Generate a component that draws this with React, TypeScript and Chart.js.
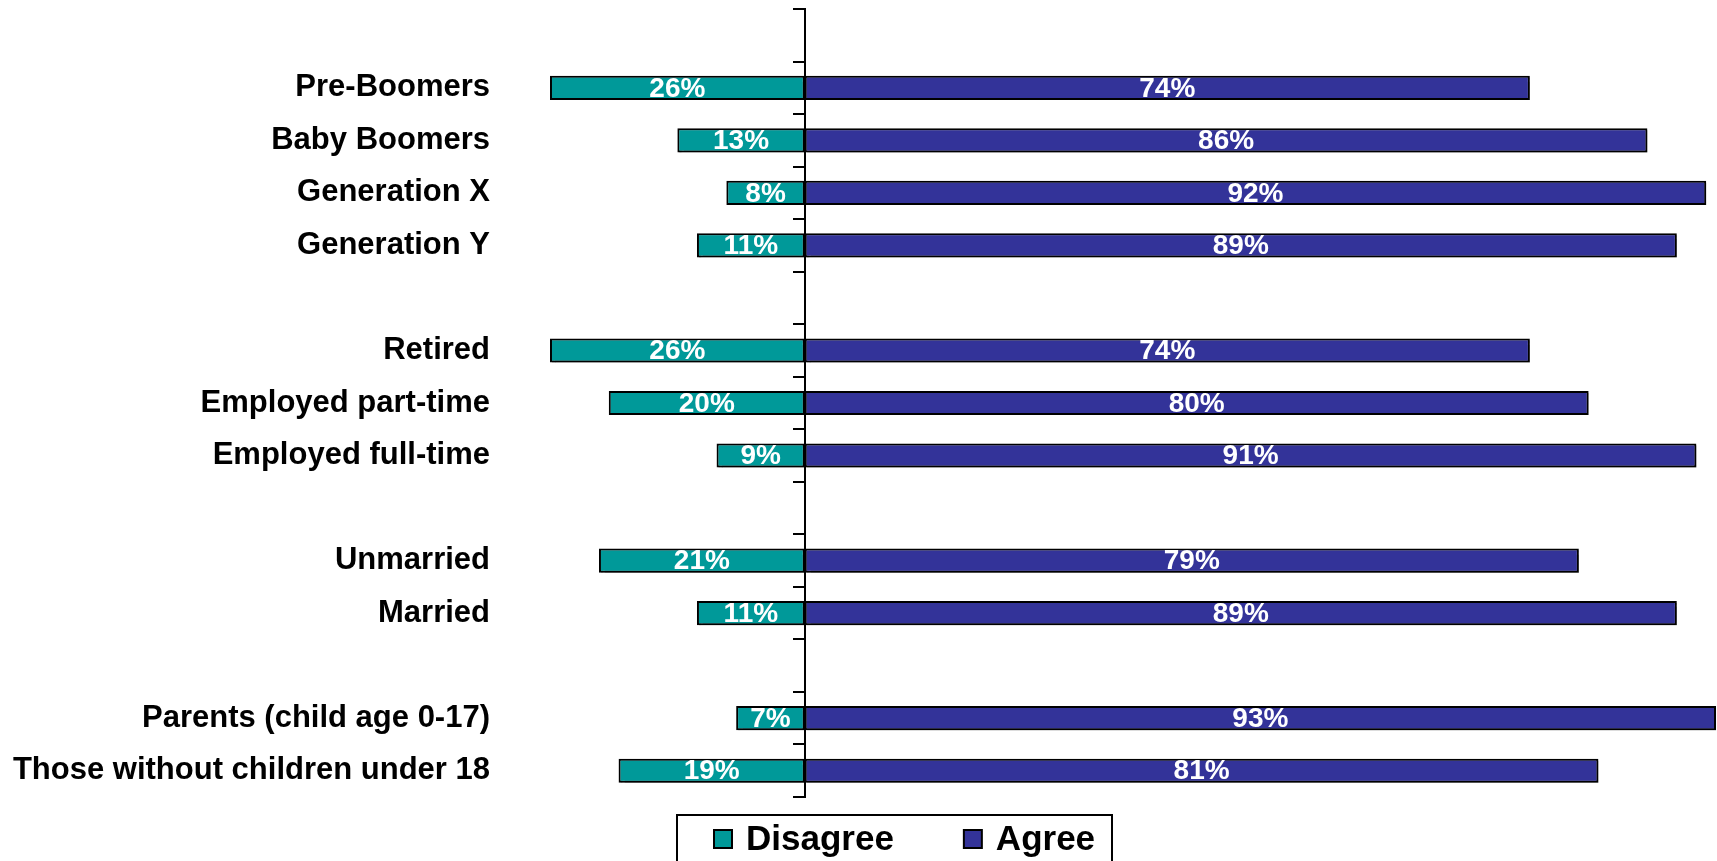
import React, { useEffect, useRef } from 'react';
import { Chart, registerables } from 'chart.js';

Chart.register(...registerables);

const FONT = '"Liberation Sans", Arial, Helvetica, sans-serif';

const categories = [
  '',
  'Pre-Boomers',
  'Baby Boomers',
  'Generation X',
  'Generation Y',
  '',
  'Retired',
  'Employed part-time',
  'Employed full-time',
  '',
  'Unmarried',
  'Married',
  '',
  'Parents (child age 0-17)',
  'Those without children under 18',
];
const disagree = [null, 26, 13, 8, 11, null, 26, 20, 9, null, 21, 11, null, 7, 19];
const agree = [null, 74, 86, 92, 89, null, 74, 80, 91, null, 79, 89, null, 93, 81];
const seriesNames = ['Disagree', 'Agree'];
const seriesColors = ['#009999', '#333399'];

const barShadow = {
  id: 'barShadow',
  beforeDatasetsDraw(chart: any) {
    const ctx = chart.ctx;
    ctx.save();
    ctx.shadowColor = 'rgba(0,0,0,0.35)';
    ctx.shadowOffsetX = 2;
    ctx.shadowOffsetY = 2;
    ctx.shadowBlur = 1;
  },
  afterDatasetsDraw(chart: any) {
    chart.ctx.restore();
  },
};

const valueLabels = {
  id: 'valueLabels',
  afterDatasetsDraw(chart: any) {
    const ctx = chart.ctx;
    ctx.save();
    ctx.font = `bold 28px ${FONT}`;
    ctx.fillStyle = '#ffffff';
    ctx.textAlign = 'center';
    ctx.textBaseline = 'middle';
    chart.data.datasets.forEach((ds: any, di: number) => {
      const meta = chart.getDatasetMeta(di);
      meta.data.forEach((el: any, i: number) => {
        const v = ds.data[i];
        if (v == null) return;
        const { x, base, y } = el.getProps(['x', 'base', 'y'], true);
        ctx.fillText(`${Math.abs(v)}%`, (x + base) / 2, y + 1);
      });
    });
    ctx.restore();
  },
};

const boxedLegend = {
  id: 'boxedLegend',
  afterDraw(chart: any) {
    const ctx = chart.ctx;
    const left = 677;
    const top = 815;
    const right = 1112;
    const bottom = 880;
    const midY = 839;
    const sq = 18;
    ctx.save();
    ctx.lineWidth = 2;
    ctx.strokeStyle = '#000';
    ctx.strokeRect(left, top, right - left, bottom - top);
    ctx.font = `bold 35px ${FONT}`;
    ctx.textBaseline = 'middle';
    ctx.textAlign = 'left';
    let x = left + 37;
    chart.data.datasets.forEach((ds: any) => {
      ctx.fillStyle = ds.backgroundColor;
      ctx.fillRect(x, midY - sq / 2, sq, sq);
      ctx.lineWidth = 2;
      ctx.strokeStyle = '#000';
      ctx.strokeRect(x, midY - sq / 2, sq, sq);
      ctx.fillStyle = '#000';
      const tx = x + sq + 14;
      ctx.fillText(ds.label, tx, midY + 1);
      x = tx + ctx.measureText(ds.label).width + 70;
    });
    ctx.restore();
  },
};

export default function App() {
  const canvasRef = useRef<HTMLCanvasElement | null>(null);

  useEffect(() => {
    if (!canvasRef.current) return;
    Chart.defaults.font.family = FONT;
    const chart = new Chart(canvasRef.current, {
      type: 'bar',
      data: {
        labels: categories,
        datasets: [
          {
            label: seriesNames[0],
            data: disagree.map((v) => (v == null ? null : -v)),
            backgroundColor: seriesColors[0],
            borderColor: '#000000',
            borderWidth: 2,
            borderSkipped: false,
            yAxisID: 'y',
            xAxisID: 'x',
          },
          {
            label: seriesNames[1],
            data: agree,
            backgroundColor: seriesColors[1],
            borderColor: '#000000',
            borderWidth: 2,
            borderSkipped: false,
            yAxisID: 'y',
            xAxisID: 'x',
          },
        ],
      },
      options: {
        indexAxis: 'y',
        animation: false,
        responsive: true,
        maintainAspectRatio: false,
        layout: { padding: { top: 9, bottom: 64, left: 0, right: 0 } },
        datasets: { bar: { categoryPercentage: 1, barPercentage: 0.46 } },
        plugins: {
          legend: { display: false },
          tooltip: { enabled: false },
        },
        scales: {
          x: {
            type: 'linear',
            stacked: true,
            min: -31.1,
            max: 93.1,
            display: false,
          },
          y: {
            type: 'category',
            stacked: true,
            grid: { display: false, drawTicks: false },
            border: { display: false },
            ticks: {
              autoSkip: false,
              color: '#000000',
              padding: 10,
              font: { size: 31, weight: 'bold', family: FONT },
            },
            afterFit: (s: any) => {
              s.width = 500;
              s.paddingTop = 0;
              s.paddingBottom = 0;
            },
          },
          yAxisLine: {
            type: 'category',
            position: { x: 0 },
            z: 1,
            grid: {
              offset: true,
              drawOnChartArea: false,
              drawTicks: true,
              tickLength: 11,
              color: '#000000',
              lineWidth: 2,
            },
            border: { display: true, color: '#000000', width: 2 },
            ticks: { display: false },
            afterFit: (s: any) => {
              s.paddingTop = 0;
              s.paddingBottom = 0;
            },
          },
        } as any,
      },
      plugins: [barShadow, valueLabels, boxedLegend],
    } as any);
    return () => chart.destroy();
  }, []);

  return (
    <div style={{ position: 'fixed', left: 0, top: 0, width: 1717, height: 861, background: '#fff' }}>
      <canvas ref={canvasRef} />
    </div>
  );
}
